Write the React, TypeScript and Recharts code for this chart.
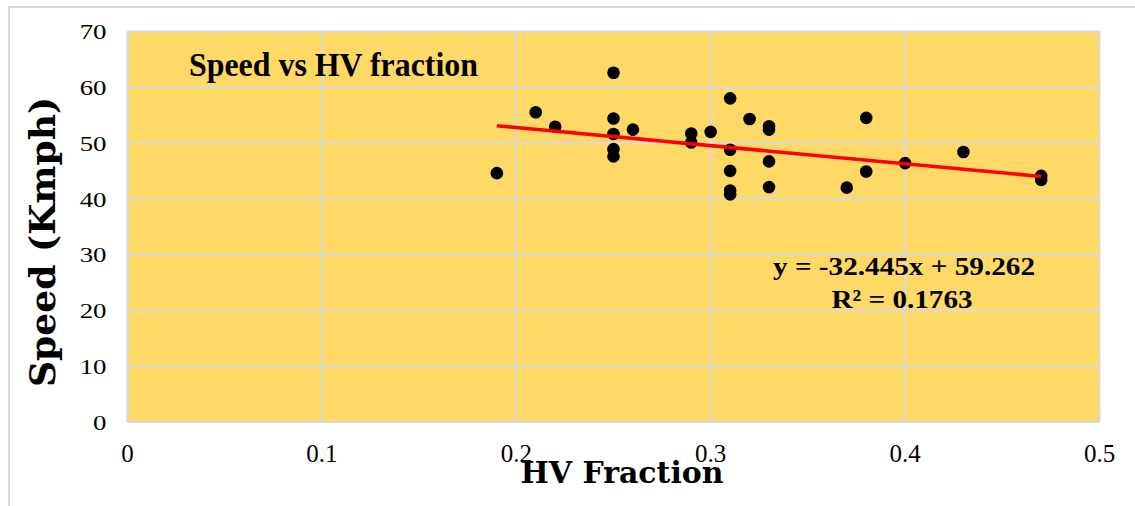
import React from "react";
import { ScatterChart, Scatter, XAxis, YAxis, CartesianGrid } from "recharts";

const hvFraction = [0.19, 0.21, 0.22, 0.25, 0.25, 0.25, 0.25, 0.25, 0.26, 0.29, 0.29, 0.30, 0.31, 0.31, 0.31, 0.31, 0.31, 0.32, 0.33, 0.33, 0.33, 0.33, 0.37, 0.38, 0.38, 0.40, 0.43, 0.47, 0.47];
const speedKmph = [44.6, 55.5, 52.9, 62.6, 54.4, 51.6, 48.9, 47.6, 52.4, 51.7, 50.1, 52.0, 58.0, 48.8, 45.0, 41.5, 40.8, 54.3, 53.0, 52.4, 46.7, 42.1, 42.0, 54.5, 44.9, 46.4, 48.4, 44.1, 43.4];

const trendX = [0.19, 0.47];
const trendY = [53.1, 44.0];

const xTicks = [0, 0.1, 0.2, 0.3, 0.4, 0.5];
const yTicks = [0, 10, 20, 30, 40, 50, 60, 70];

const titleText = "Speed vs HV fraction";
const equationText = "y = -32.445x + 59.262";
const r2Text = "R² = 0.1763";
const xLabel = "HV Fraction";
const yLabel = "Speed (Kmph)";

const points = hvFraction.map((x, i) => ({ x, y: speedKmph[i] }));
const trend = trendX.map((x, i) => ({ x, y: trendY[i] }));

const serif = "'Liberation Serif', 'Times New Roman', serif";
const wideSerif = "'DejaVu Serif', serif";

const NoShape = () => <g />;

const YTick = (props: any) => {
  const { x, y, payload } = props;
  return (
    <text
      transform={`translate(${x},${y}) scale(1.22,1)`}
      textAnchor="end"
      dy="0.35em"
      fontSize={22}
      fontFamily={serif}
      fill="#000"
    >
      {payload.value}
    </text>
  );
};

const XTick = (props: any) => {
  const { x, y, payload } = props;
  return (
    <text x={x} y={y} textAnchor="middle" dy="0.71em" fontSize={25} fontFamily={serif} fill="#000">
      {payload.value}
    </text>
  );
};

export default function App() {
  return (
    <div style={{ position: "absolute", left: 0, top: 0, width: 1135, height: 506, overflow: "hidden", background: "#fff" }}>
      <div style={{ position: "absolute", left: 8, top: 6, width: 1140, height: 520, borderLeft: "2px solid #d9d9d9", borderTop: "2px solid #d9d9d9", boxSizing: "border-box" }} />
      <div style={{ position: "absolute", left: 0, top: 0 }}>
        <ScatterChart width={1135} height={506} margin={{ top: 31.4, right: 35.5, bottom: 44, left: 67.5 }}>
          <CartesianGrid stroke="#d9d9d9" strokeWidth={2} fill="#FFD966" fillOpacity={1} />
          <XAxis
            type="number"
            dataKey="x"
            domain={[0, 0.5]}
            ticks={xTicks}
            interval={0}
            height={40}
            axisLine={{ stroke: "#d9d9d9", strokeWidth: 2 }}
            tickLine={false}
            tickSize={0}
            tickMargin={22}
            tick={<XTick />}
          />
          <YAxis
            type="number"
            dataKey="y"
            domain={[0, 70]}
            ticks={yTicks}
            interval={0}
            width={60}
            axisLine={{ stroke: "#d9d9d9", strokeWidth: 2 }}
            tickLine={false}
            tickSize={0}
            tickMargin={21}
            tick={<YTick />}
          />
          <Scatter data={points} fill="#000" isAnimationActive={false} shape={(p: any) => <circle cx={p.cx} cy={p.cy} r={6.3} fill="#000" />} />
          <Scatter data={trend} isAnimationActive={false} line={{ stroke: "#FF0000", strokeWidth: 3.5 }} shape={NoShape} />
        </ScatterChart>
      </div>
      <svg width={1135} height={506} style={{ position: "absolute", left: 0, top: 0, pointerEvents: "none" }}>
        <text x={189} y={76} fontFamily={serif} fontWeight="bold" fontSize={34} fill="#000" textLength={289} lengthAdjust="spacingAndGlyphs">{titleText}</text>
        <text x={904} y={275} textAnchor="middle" fontFamily={serif} fontWeight="bold" fontSize={26} fill="#000" textLength={262} lengthAdjust="spacingAndGlyphs">{equationText}</text>
        <text x={902} y={308} textAnchor="middle" fontFamily={serif} fontWeight="bold" fontSize={26} fill="#000" textLength={141} lengthAdjust="spacingAndGlyphs">{r2Text}</text>
        <text x={622} y={483} textAnchor="middle" fontFamily={wideSerif} fontWeight="bold" fontSize={29} fill="#000" textLength={203} lengthAdjust="spacingAndGlyphs">{xLabel}</text>
        <text transform="translate(55,242) rotate(-90)" textAnchor="middle" fontFamily={wideSerif} fontWeight="bold" fontSize={36} fill="#000" textLength={290} lengthAdjust="spacingAndGlyphs">{yLabel}</text>
      </svg>
    </div>
  );
}
